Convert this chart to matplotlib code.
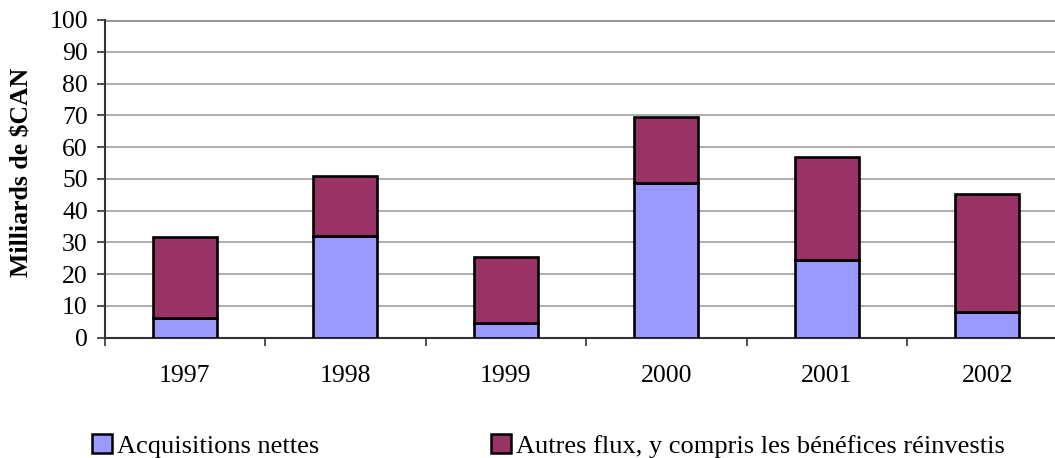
import numpy as np
import matplotlib
matplotlib.use("Agg")
from matplotlib import pyplot as plt
from matplotlib.patches import Patch

# values (billions CAD)
years = ["1997", "1998", "1999", "2000", "2001", "2002"]
acquisitions = [6.1, 32.1, 4.5, 48.7, 24.4, 8.2]
totals = [31.8, 51.0, 25.5, 69.4, 56.8, 45.2]
autres = [t - a for t, a in zip(totals, acquisitions)]
yticks = list(range(0, 101, 10))

blue = "#9999FF"
maroon = "#993366"

plt.rcParams["font.family"] = ["Liberation Serif", "DejaVu Serif"]

fig = plt.figure(figsize=(10.55, 4.58), dpi=100)
ax = fig.add_axes([104.5 / 1055, 1 - 337.7 / 458, 963 / 1055, (337.7 - 20) / 458])

x = np.arange(len(years))
ax.bar(x, acquisitions, width=0.4, color=blue, edgecolor="black", linewidth=1.9, zorder=3)
ax.bar(x, autres, width=0.4, bottom=acquisitions, color=maroon, edgecolor="black",
       linewidth=1.9, zorder=3)

ax.set_xlim(-0.5, len(years) - 0.5)
ax.set_ylim(0, 100)
ax.set_yticks(yticks)
ax.tick_params(axis="y", labelsize=18.5, length=6, width=1.2, pad=6, color="#333333")
ax.yaxis.grid(True, color="#a0a0a0", linewidth=1.2, zorder=0)

ax.set_xticks(x)
ax.set_xticklabels(years)
ax.tick_params(axis="x", which="major", length=0, labelsize=18.5, pad=20)
ax.set_xticks(np.arange(len(years) + 1) - 0.5, minor=True)
ax.tick_params(axis="x", which="minor", length=6, width=1.2, color="#333333")

for side in ["top", "right"]:
    ax.spines[side].set_visible(False)
ax.spines["left"].set_color("#333333")
ax.spines["left"].set_linewidth(1.5)
ax.spines["bottom"].set_color("#333333")
ax.spines["bottom"].set_linewidth(1.5)
ax.axhline(100, color="#888888", linewidth=2, zorder=1)

ax.set_ylabel("Milliards de $CAN", fontsize=18.5, fontweight="bold")
ax.yaxis.set_label_coords((22 - 104.5) / 963, 0.52)
ax.yaxis.label.set_verticalalignment("center")

h1 = Patch(facecolor=blue, edgecolor="black", linewidth=1.8)
h2 = Patch(facecolor=maroon, edgecolor="black", linewidth=1.8)
fig.legend([h1], ["Acquisitions nettes"], loc="center left",
           bbox_to_anchor=(68 / 1055, 1 - 446 / 458), frameon=False, fontsize=19,
           handlelength=0.75, handleheight=0.75, handletextpad=0.2)
fig.legend([h2], ["Autres flux, y compris les bénéfices réinvestis"], loc="center left",
           bbox_to_anchor=(467 / 1055, 1 - 446 / 458), frameon=False, fontsize=19,
           handlelength=0.75, handleheight=0.75, handletextpad=0.2)

fig.savefig("out.png", dpi=100)
